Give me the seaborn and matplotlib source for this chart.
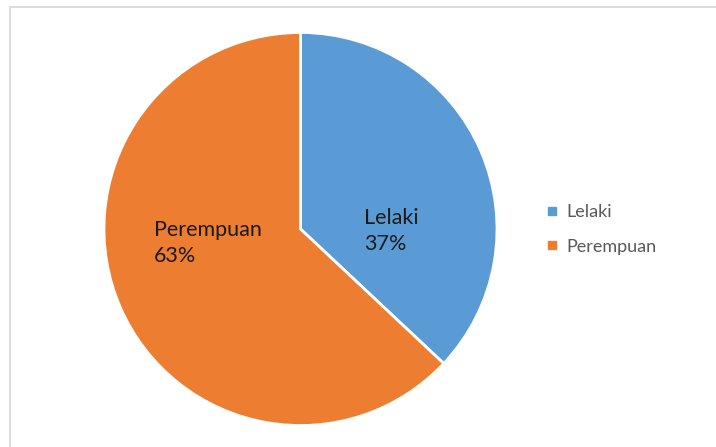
import matplotlib
matplotlib.use('Agg')
import matplotlib.pyplot as plt
from matplotlib.lines import Line2D
from matplotlib.patches import Rectangle
import seaborn as sns

# data
labels = ['Lelaki', 'Perempuan']
values = [37, 63]
colors = sns.color_palette(['#5B9BD5', '#ED7D31'])

sns.set_style('white')
plt.rcParams['font.family'] = ['Lato', 'DejaVu Sans']

fig = plt.figure(figsize=(7.16, 4.47), dpi=100)
W, H = 716, 447
cx, cy, r = 300.5, 229, 196.5
ax = fig.add_axes([(cx - r) / W, (H - cy - r) / H, 2 * r / W, 2 * r / H])

wedges, _ = ax.pie(values, colors=colors, startangle=90, counterclock=False,
                   wedgeprops=dict(edgecolor='white', linewidth=2), radius=1)
ax.set_xlim(-1, 1)
ax.set_ylim(-1, 1)
ax.set_aspect('equal')
ax.axis('off')

# data labels (category + percent)
label_pos = [(0.325, -0.01), (-0.745, -0.07)]
for (x, y), lab, v in zip(label_pos, labels, values):
    ax.text(x, y, f'{lab}\n{v}%', ha='left', va='center', fontsize=15.5,
            color='#1a1a1a', linespacing=1.35)

# legend
handles = [Line2D([0], [0], marker='s', linestyle='', markersize=6,
                  markerfacecolor=c, markeredgecolor=c) for c in colors]
fig.legend(handles, labels, loc='center left', bbox_to_anchor=(527 / W, (H - 229.5) / H),
           frameon=False, fontsize=13, labelcolor='#595959', handletextpad=0.3,
           handlelength=1.0, labelspacing=1.0)

# outer border
fig.add_artist(Rectangle((9.5 / W, -0.1), 1.2, (H - 7.5) / H + 0.1, transform=fig.transFigure,
                         fill=False, edgecolor='#d9d9d9', linewidth=1.3))

fig.savefig('out.png', dpi=100, facecolor='white')
